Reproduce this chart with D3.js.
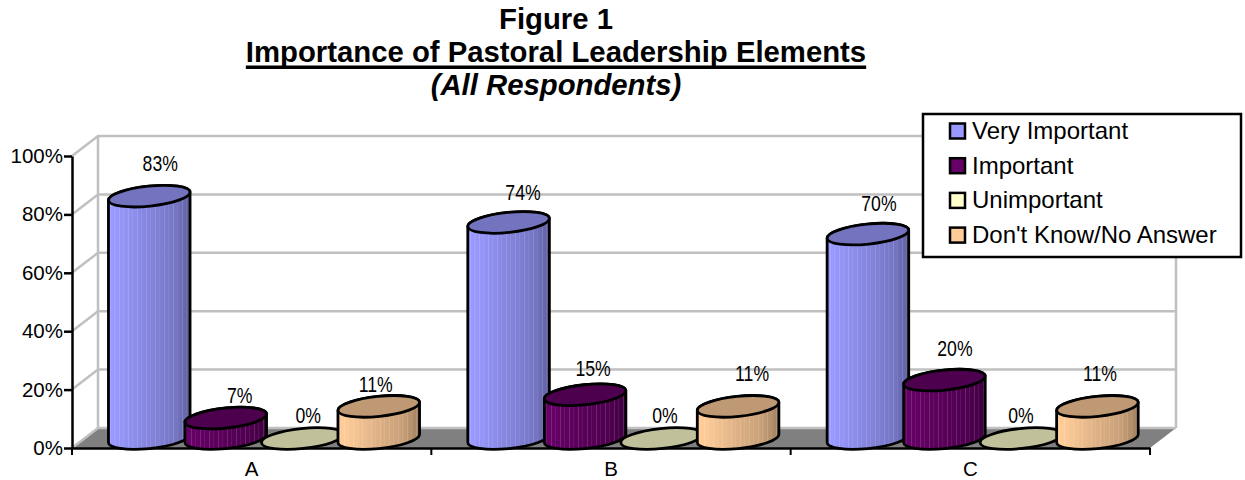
<!DOCTYPE html>
<html>
<head>
<meta charset="utf-8">
<script src="https://cdn.jsdelivr.net/npm/d3@7"></script>
<style>
  html, body { margin: 0; padding: 0; background: #fff; }
  svg { display: block; }
  text { font-family: "Liberation Sans", Arial, sans-serif; fill: #000; }
</style>
</head>
<body>
<script>
(function () {
  var categories = ['A', 'B', 'C'];
  var seriesNames = ['Very Important', 'Important', 'Unimportant', "Don't Know/No Answer"];
  var veryImportant = [83, 74, 70];
  var important = [7, 15, 20];
  var unimportant = [0, 0, 0];
  var dontKnow = [11, 11, 11];
  var yTicks = [0, 20, 40, 60, 80, 100];
  var titleLines = ['Figure 1', 'Importance of Pastoral Leadership Elements', '(All Respondents)'];

  var seriesValues = [veryImportant, important, unimportant, dontKnow];
  var bodyColors = ['#9999ff', '#660066', '#ffffcc', '#ffcc99'];
  var topColors = ['#7373bf', '#4d004d', '#c0c09a', '#bf9973'];

  // hand placed label nudges per series and category: [dx, dy above the cap]
  var labelNudge = [
    [[11, 33], [14.4, 30.4], [11, 31]],
    [[14, 23], [8, 26.7], [10.5, 32]],
    [[6, 23.5], [3.4, 23.5], [0, 23.5]],
    [[-3, 22.4], [14, 33.4], [2.5, 33.4]]
  ];

  var width = 1245;
  var height = 480;
  var depthX = 26;
  var depthY = -20;
  var radiusX = 41;
  var radiusY = 10;
  var tilt = -6;
  var capDrop = -9.5;

  var svg = d3.select('body')
    .append('svg')
    .attr('width', width)
    .attr('height', height);

  var x = d3.scaleBand()
    .domain(categories)
    .range([72, 1150]);

  var inner = d3.scaleBand()
    .domain(d3.range(seriesNames.length))
    .range([39, 345]);

  var y = d3.scaleLinear()
    .domain([0, 100])
    .range([448, 156]);

  var defs = svg.append('defs');

  bodyColors.forEach(function (c, i) {
    var grad = defs.append('linearGradient')
      .attr('id', 'body' + i);
    [[0, 0], [0.08, 0], [0.45, 0.35], [0.8, 0.7], [1, 1.3]].forEach(function (s) {
      grad.append('stop')
        .attr('offset', s[0])
        .attr('stop-color', d3.color(c).darker(s[1]).formatHex());
    });
  });

  var stripes = defs.append('pattern')
    .attr('id', 'stripes')
    .attr('patternUnits', 'userSpaceOnUse')
    .attr('width', 9)
    .attr('height', 40);
  stripes.append('rect')
    .attr('x', 2)
    .attr('width', 1)
    .attr('height', 40)
    .attr('fill', '#fff')
    .attr('opacity', 0.14);
  stripes.append('rect')
    .attr('x', 6)
    .attr('width', 1)
    .attr('height', 40)
    .attr('fill', '#fff')
    .attr('opacity', 0.07);

  // back wall, floor and gridlines
  var grid = svg.append('g')
    .attr('stroke', '#c0c0c0')
    .attr('stroke-width', 2.5)
    .attr('fill', 'none');

  svg.insert('path', 'g')
    .attr('d', d3.line()([
      [x.range()[0], y(0)],
      [x.range()[0] + depthX, y(0) + depthY],
      [x.range()[1] + depthX, y(0) + depthY],
      [x.range()[1], y(0)]
    ]) + 'Z')
    .attr('fill', '#808080');

  grid.selectAll('.back')
    .data(yTicks)
    .enter()
    .append('path')
    .attr('d', function (d) {
      return d3.line()([
        [x.range()[0], y(d)],
        [x.range()[0] + depthX, y(d) + depthY],
        [x.range()[1] + depthX, y(d) + depthY]
      ]);
    });

  grid.append('line')
    .attr('x1', x.range()[0] + depthX)
    .attr('x2', x.range()[0] + depthX)
    .attr('y1', y(0) + depthY)
    .attr('y2', y(100) + depthY);

  grid.append('line')
    .attr('x1', x.range()[1] + depthX)
    .attr('x2', x.range()[1] + depthX)
    .attr('y1', y(0) + depthY)
    .attr('y2', y(100) + depthY);

  // axes
  var yAxis = d3.axisLeft(y)
    .tickValues(yTicks)
    .tickSize(8)
    .tickSizeOuter(0)
    .tickPadding(1)
    .tickFormat(function (d) { return d + '%'; });

  var yAxisG = svg.append('g')
    .attr('transform', 'translate(' + x.range()[0] + ',0)')
    .call(yAxis);

  var xAxis = d3.axisBottom(x)
    .tickSize(0)
    .tickPadding(13);

  var xAxisG = svg.append('g')
    .attr('transform', 'translate(0,' + y(0) + ')')
    .call(xAxis);

  xAxisG.selectAll('.edge')
    .data([0, 1, 2, 3])
    .enter()
    .append('line')
    .attr('x1', function (d) { return x.range()[0] + d * x.step(); })
    .attr('x2', function (d) { return x.range()[0] + d * x.step(); })
    .attr('y2', 7)
    .attr('stroke', '#000')
    .attr('stroke-width', 2);

  [yAxisG, xAxisG].forEach(function (g) {
    g.selectAll('.domain, .tick line')
      .attr('stroke', '#000')
      .attr('stroke-width', 2.5);
    g.selectAll('text')
      .attr('font-size', 20.5)
      .attr('font-family', '"Liberation Sans", Arial, sans-serif');
  });

  // tilted ellipse: point at the side where the outline turns vertical
  function sidePoint(cx, cy, sign) {
    var th = tilt * Math.PI / 180;
    var t = Math.atan(-(radiusY / radiusX) * Math.tan(th));
    return [
      cx + sign * (radiusX * Math.cos(t) * Math.cos(th) - radiusY * Math.sin(t) * Math.sin(th)),
      cy + sign * (radiusX * Math.cos(t) * Math.sin(th) + radiusY * Math.sin(t) * Math.cos(th))
    ];
  }

  function arcTo(p, sweep) {
    return 'A' + radiusX + ',' + radiusY + ' ' + tilt + ' 0 ' + sweep + ' ' + p[0] + ',' + p[1];
  }

  function bodyPath(cx, yTop, yBase) {
    var lt = sidePoint(cx, yTop, -1);
    var rt = sidePoint(cx, yTop, 1);
    var lb = sidePoint(cx, yBase, -1);
    var rb = sidePoint(cx, yBase, 1);
    return 'M' + lt + 'L' + lb + arcTo(rb, 0) + 'L' + rt + arcTo(lt, 0) + 'Z';
  }

  var marks = [];
  seriesValues.forEach(function (values, s) {
    values.forEach(function (v, c) {
      marks.push({ s: s, c: c, value: v });
    });
  });

  function centre(d) {
    return x(categories[d.c]) + inner(d.s) + inner.bandwidth() / 2;
  }

  var cyl = svg.selectAll('.cyl')
    .data(marks.sort(function (a, b) { return a.c - b.c || a.s - b.s; }))
    .enter()
    .append('g')
    .attr('class', 'cyl')
    .attr('stroke-linejoin', 'round');

  cyl.filter(function (d) { return d.value > 0; })
    .append('path')
    .attr('d', function (d) { return bodyPath(centre(d), y(d.value) + capDrop, y(0) + capDrop); })
    .attr('fill', function (d) { return 'url(#body' + d.s + ')'; });

  cyl.filter(function (d) { return d.value > 0; })
    .append('path')
    .attr('d', function (d) { return bodyPath(centre(d), y(d.value) + capDrop, y(0) + capDrop); })
    .attr('fill', 'url(#stripes)')
    .attr('stroke', '#000')
    .attr('stroke-width', 2.8);

  cyl.append('ellipse')
    .attr('rx', radiusX)
    .attr('ry', radiusY)
    .attr('transform', function (d) {
      return 'translate(' + centre(d) + ',' + (y(d.value) + capDrop) + ') rotate(' + tilt + ')';
    })
    .attr('fill', function (d) { return topColors[d.s]; })
    .attr('stroke', '#000')
    .attr('stroke-width', 2.8);

  // value labels are set in a narrowed face
  svg.selectAll('.val')
    .data(marks)
    .enter()
    .append('text')
    .attr('class', 'val')
    .attr('transform', function (d) {
      var n = labelNudge[d.s][d.c];
      return 'translate(' + (centre(d) + n[0]) + ',' + (y(d.value) + capDrop - n[1] + 8) + ') scale(0.82,1)';
    })
    .attr('text-anchor', 'middle')
    .attr('font-size', 21.5)
    .text(function (d) { return d.value + '%'; });

  // legend
  var legend = svg.append('g');

  legend.append('rect')
    .attr('x', 923)
    .attr('y', 114)
    .attr('width', 318)
    .attr('height', 143)
    .attr('fill', '#fff')
    .attr('stroke', '#000')
    .attr('stroke-width', 2.5);

  var rows = legend.selectAll('.row')
    .data(seriesNames)
    .enter()
    .append('g')
    .attr('transform', function (d, i) { return 'translate(950,' + (131 + i * 34.7) + ')'; });

  rows.append('rect')
    .attr('y', -7.5)
    .attr('width', 15)
    .attr('height', 15)
    .attr('fill', function (d, i) { return bodyColors[i]; })
    .attr('stroke', '#000')
    .attr('stroke-width', 2.5);

  rows.append('text')
    .attr('x', 22)
    .attr('y', 8)
    .attr('font-size', 24)
    .text(function (d) { return d; });

  // title block, the underline is its own rule so it can sit heavier than the default
  var titleX = 556;
  var titles = svg.selectAll('.title')
    .data(titleLines)
    .enter()
    .append('text')
    .attr('class', 'title')
    .attr('x', titleX)
    .attr('y', function (d, i) { return 29 + i * 33; })
    .attr('text-anchor', 'middle')
    .attr('font-size', 29.3)
    .attr('font-weight', 'bold')
    .attr('font-style', function (d, i) { return i === 2 ? 'italic' : null; })
    .text(function (d) { return d; });

  var ruleWidth = titles.nodes()[1].getComputedTextLength();
  svg.append('rect')
    .attr('x', titleX - ruleWidth / 2)
    .attr('y', 65.5)
    .attr('width', ruleWidth)
    .attr('height', 3.5)
    .attr('fill', '#000');
}());
</script>
</body>
</html>
